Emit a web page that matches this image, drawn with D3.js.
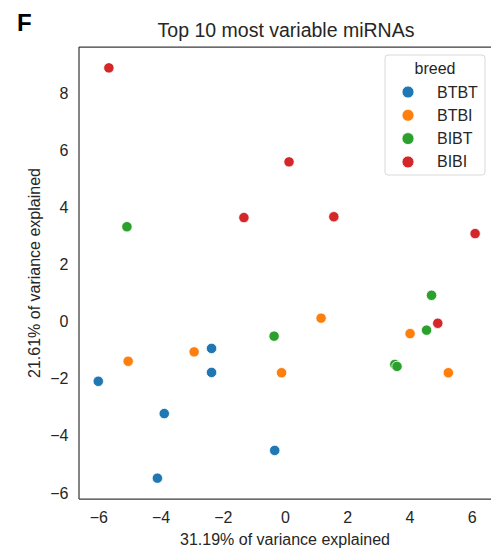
<!DOCTYPE html>
<html>
<head>
<meta charset="utf-8">
<script src="https://cdn.jsdelivr.net/npm/d3@7"></script>
<style>
body { margin: 0; background: #fff; }
text { font-family: "Liberation Sans", Arial, sans-serif; }
</style>
</head>
<body>
<div id="chart"></div>
<script>
// PCA scores
let breeds = ["BTBT", "BTBI", "BIBT", "BIBI"];
let colors = ["#1f77b4", "#ff7f0e", "#2ca02c", "#d62728"];

let btbtX = [-2.36, -2.36, -6.0, -3.88, -4.10, -0.33];
let btbtY = [-0.94, -1.78, -2.09, -3.22, -5.48, -4.51];
let btbiX = [1.16, 4.02, 5.25, -0.11, -2.92, -5.04];
let btbiY = [0.12, -0.42, -1.79, -1.79, -1.06, -1.39];
let bibtX = [-5.08, 4.71, 4.55, 3.53, 3.60, -0.35];
let bibtY = [3.32, 0.92, -0.30, -1.50, -1.57, -0.51];
let bibiX = [-5.66, 0.13, -1.32, 1.57, 6.11, 4.91];
let bibiY = [8.88, 5.59, 3.64, 3.67, 3.08, -0.06];

let xTicks = [-6, -4, -2, 0, 2, 4, 6];
let yTicks = [-6, -4, -2, 0, 2, 4, 6, 8];

let width = 491, height = 551;
let mLeft = 79, mTop = 47, mRight = 500, mBottom = 499;

let svg = d3.select("#chart").append("svg")
    .attr("width", width)
    .attr("height", height);

let x = d3.scaleLinear().domain([-6.62, 6.91]).range([mLeft, mRight]);
let y = d3.scaleLinear().domain([-6.21, 9.61]).range([mBottom, mTop]);

let data = [];
[[btbtX, btbtY], [btbiX, btbiY], [bibtX, bibtY], [bibiX, bibiY]].forEach((s, k) => {
    s[0].forEach((v, i) => {
        data.push({ x: v, y: s[1][i], breed: breeds[k] });
    });
});

let color = d3.scaleOrdinal().domain(breeds).range(colors);
let minus = d => d < 0 ? "\u2212" + (-d) : d;

// axes, no tick marks
let xAxis = svg.append("g")
    .attr("transform", "translate(0," + mBottom + ")")
    .call(d3.axisBottom(x).tickValues(xTicks).tickSize(0).tickPadding(12.6).tickFormat(minus));
let yAxis = svg.append("g")
    .attr("transform", "translate(" + mLeft + ",0)")
    .call(d3.axisLeft(y).tickValues(yTicks).tickSize(0).tickPadding(10.5).tickFormat(minus));

[xAxis, yAxis].forEach(a => {
    a.select(".domain").remove();
    a.selectAll("text").attr("font-size", 16).attr("fill", "#262626")
        .attr("font-family", "Liberation Sans, Arial, sans-serif");
});

// spines
svg.append("line").attr("x1", mLeft).attr("x2", mLeft).attr("y1", mTop).attr("y2", mBottom)
    .attr("stroke", "#3a3a3a").attr("stroke-width", 1.25);
svg.append("line").attr("x1", mLeft).attr("x2", mRight).attr("y1", mBottom).attr("y2", mBottom)
    .attr("stroke", "#3a3a3a").attr("stroke-width", 1.25);
svg.append("line").attr("x1", mLeft).attr("x2", mRight).attr("y1", mTop).attr("y2", mTop)
    .attr("stroke", "#3a3a3a").attr("stroke-width", 1.25);

svg.selectAll(".dot")
    .data(data)
    .enter()
    .append("circle")
    .attr("class", "dot")
    .attr("cx", d => x(d.x))
    .attr("cy", d => y(d.y))
    .attr("r", 5.2)
    .attr("fill", d => color(d.breed))
    .attr("stroke", "#fff")
    .attr("stroke-width", 0.8);

// titles
svg.append("text").text("F")
    .attr("x", 17).attr("y", 31)
    .attr("font-size", 24).attr("font-weight", "bold").attr("fill", "#000");

svg.append("text").text("Top 10 most variable miRNAs")
    .attr("x", 286).attr("y", 37)
    .attr("text-anchor", "middle")
    .attr("font-size", 19.5).attr("fill", "#262626");

svg.append("text").text("31.19% of variance explained")
    .attr("x", 285).attr("y", 545)
    .attr("text-anchor", "middle")
    .attr("font-size", 16).attr("fill", "#262626");

svg.append("text").text("21.61% of variance explained")
    .attr("transform", "translate(40,273) rotate(-90)")
    .attr("text-anchor", "middle")
    .attr("font-size", 16).attr("fill", "#262626");

// legend
let lg = svg.append("g");
lg.append("rect")
    .attr("x", 385).attr("y", 55).attr("width", 100).attr("height", 120)
    .attr("rx", 3)
    .attr("fill", "#fff").attr("fill-opacity", 0.8)
    .attr("stroke", "#d9d9d9").attr("stroke-width", 1);
lg.append("text").text("breed")
    .attr("x", 435).attr("y", 73.5)
    .attr("text-anchor", "middle")
    .attr("font-size", 16).attr("fill", "#262626");

lg.selectAll(".le").data(breeds).enter()
    .append("circle")
    .attr("cx", 408)
    .attr("cy", (d, i) => 92 + i * 23.3)
    .attr("r", 6)
    .attr("fill", d => color(d))
    .attr("stroke", "#fff").attr("stroke-width", 0.8);

lg.selectAll(".letext").data(breeds).enter()
    .append("text")
    .text(d => d)
    .attr("x", 437)
    .attr("y", (d, i) => 97.5 + i * 23.3)
    .attr("font-size", 16).attr("fill", "#262626");
</script>
</body>
</html>
